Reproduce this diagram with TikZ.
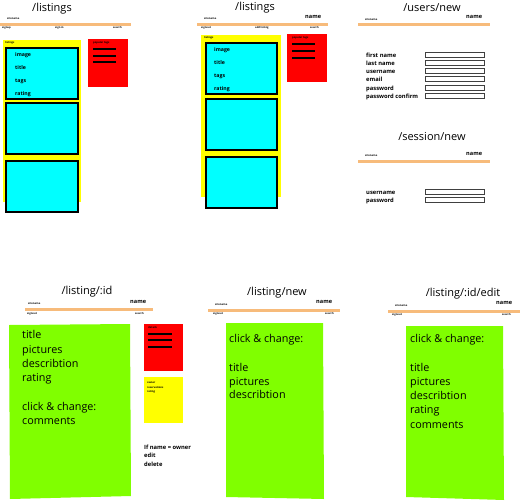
\documentclass[tikz,border=0pt]{standalone}
\usepackage{fontspec}
\setmainfont{Open Sans}
\begin{document}
\begin{tikzpicture}[x=1pt,y=-1pt,
  ttl/.style={font=\fontsize{11}{11}\selectfont, inner sep=0pt},
  tiny/.style={font=\fontsize{2.6}{3}\selectfont\bfseries, anchor=west, inner sep=0pt},
  usr/.style={font=\fontsize{5.6}{6}\selectfont\bfseries, anchor=west, inner sep=0pt},
  lbl/.style={font=\fontsize{5.2}{6}\selectfont\bfseries, anchor=base west, inner sep=0pt},
  frm/.style={font=\fontsize{5.8}{7}\selectfont\bfseries, anchor=base west, inner sep=0pt},
  big/.style={font=\fontsize{10.8}{12}\selectfont, anchor=base west, inner sep=0pt},
  navbar/.style={draw=navorange, line width=3pt, opacity=0.85},
  listcol/.style={fill=wfyellow, draw=none},
  card/.style={fill=wfcyan, draw=black, line width=1.6pt},
  sidebox/.style={fill=wfred, draw=none},
  sideline/.style={draw=black, line width=1.3pt},
  field/.style={draw=black!75, line width=0.7pt, fill=white},
  panel/.style={fill=wfgreen, draw=none}]
\definecolor{navorange}{RGB}{246,176,100}
\definecolor{wfyellow}{RGB}{255,255,0}
\definecolor{wfgreen}{RGB}{128,255,0}
\definecolor{wfcyan}{RGB}{0,255,255}
\definecolor{wfred}{RGB}{255,0,0}
\useasboundingbox[fill=white] (0,0) rectangle (520,501);

% ---------- /listings (signed out) ----------
\node[ttl] (t1) at (52,9) {/listings};
\node[tiny] (s1) at (7,19) {sitename};
\coordinate (n1a) at (0,24); \coordinate (n1b) at (131,24);
\draw[navbar] (n1a) -- (n1b);
\node[tiny] (a1) at (2,28) {signup};
\node[tiny] (b1) at (55,28) {sign in};
\node[tiny] (c1) at (113,28) {search};
\fill[listcol] (3,40) rectangle (81,202);
\node[tiny] (l1) at (5,43) {listings};
\draw[card] (6,48) rectangle (78,99);
\draw[card] (6,103) rectangle (78,154);
\draw[card] (6,161) rectangle (78,212);
\node[lbl] at (15,56) {image};
\node[lbl] at (15,69) {title};
\node[lbl] at (15,82) {tags};
\node[lbl] at (15,95) {rating};
\fill[sidebox] (88,39) rectangle (128,87);
\node[tiny] at (93,43) {popular tags};
\foreach \yy in {49,56,62} \draw[sideline] (93,\yy) -- (116,\yy);

% ---------- /listings (signed in) ----------
\node[ttl] (t2) at (255,8) {/listings};
\node[tiny] (s2) at (204,19) {sitename};
\node[usr] (u2) at (305,17) {name};
\coordinate (n2a) at (197,24); \coordinate (n2b) at (328,24);
\draw[navbar] (n2a) -- (n2b);
\node[tiny] at (201,28) {signout};
\node[tiny] at (255,28) {add listing};
\node[tiny] at (310,28) {search};
\fill[listcol] (201,35) rectangle (281,197);
\node[tiny] at (204,38) {listings};
\draw[card] (206,43) rectangle (277,94);
\draw[card] (206,99) rectangle (277,150);
\draw[card] (206,157) rectangle (277,208);
\node[lbl] at (214,51) {image};
\node[lbl] at (214,64) {title};
\node[lbl] at (214,77) {tags};
\node[lbl] at (214,90) {rating};
\fill[sidebox] (287,34) rectangle (327,82);
\node[tiny] at (292,38) {popular tags};
\foreach \yy in {44,51,58} \draw[sideline] (292,\yy) -- (315,\yy);

% ---------- /users/new ----------
\node[ttl] (t3) at (432,8) {/users/new};
\node[tiny] at (365,20) {sitename};
\node[usr] at (466,17) {name};
\coordinate (n3a) at (358,24); \coordinate (n3b) at (490,24);
\draw[navbar] (n3a) -- (n3b);
\foreach \yy/\txt in {55/first name,63/last name,71/username,79/email,88/password,96/password confirm}{
  \node[frm] at (366,\yy+2) {\txt};
  \draw[field] (425,\yy-2.5) rectangle (484,\yy+2.5);
}

% ---------- /session/new ----------
\node[ttl] (t4) at (432,137) {/session/new};
\node[tiny] at (365,156) {sitename};
\node[usr] at (466,154) {name};
\coordinate (n4a) at (358,161); \coordinate (n4b) at (490,161);
\draw[navbar] (n4a) -- (n4b);
\foreach \yy/\txt in {192/username,200/password}{
  \node[frm] at (366,\yy+2) {\txt};
  \draw[field] (425,\yy-2.5) rectangle (484,\yy+2.5);
}

% ---------- /listing/:id ----------
\node[ttl] (t5) at (87,292) {/listing/:id};
\node[tiny] at (28,304) {sitename};
\node[usr] at (130,302) {name};
\coordinate (n5a) at (25,309); \coordinate (n5b) at (153,309);
\draw[navbar] (n5a) -- (n5b);
\node[tiny] at (27,314) {signout};
\node[tiny] at (135,314) {search};
\fill[panel] (9,325) -- (130,324) -- (131,496) -- (10,499) -- cycle;
\node[big] at (22,338) {title};
\node[big] at (22,353) {pictures};
\node[big] at (22,367) {describtion};
\node[big] at (22,381) {rating};
\node[big] at (22,410) {click \& change:};
\node[big] at (22,424) {comments};
\fill[sidebox] (144,324) rectangle (183,371);
\node[tiny] at (148,328) {details};
\foreach \yy in {334,340,347} \draw[sideline] (148,\yy) -- (172,\yy);
\fill[listcol] (144,377) rectangle (183,423);
\node[tiny] at (147,383) {owner};
\node[tiny] at (147,388) {reservations};
\node[tiny] at (147,392) {rating};
\node[frm] at (144,449) {If name = owner};
\node[frm] at (144,457) {edit};
\node[frm] at (144,466) {delete};

% ---------- /listing/new ----------
\node[ttl] (t6) at (277,293) {/listing/new};
\node[tiny] at (215,305) {sitename};
\node[usr] at (316,302) {name};
\coordinate (n6a) at (208,310); \coordinate (n6b) at (340,310);
\draw[navbar] (n6a) -- (n6b);
\node[tiny] at (213,314) {signout};
\node[tiny] at (325,314) {search};
\fill[panel] (226,323) -- (323,323) -- (324,499) -- (226,497) -- cycle;
\node[big] at (229,342) {click \& change:};
\node[big] at (229,371) {title};
\node[big] at (229,385) {pictures};
\node[big] at (229,398) {describtion};

% ---------- /listing/:id/edit ----------
\node[ttl] (t7) at (463,294) {/listing/:id/edit};
\node[tiny] at (395,306) {sitename};
\node[usr] at (496,303) {name};
\coordinate (n7a) at (388,311); \coordinate (n7b) at (520,311);
\draw[navbar] (n7a) -- (n7b);
\node[tiny] at (392,315) {signout};
\node[tiny] at (502,315) {search};
\fill[panel] (406,326) -- (503,326) -- (504,500) -- (406,497) -- cycle;
\node[big] at (410,342) {click \& change:};
\node[big] at (410,371) {title};
\node[big] at (410,385) {pictures};
\node[big] at (410,399) {describtion};
\node[big] at (410,413) {rating};
\node[big] at (410,428) {comments};
\end{tikzpicture}
\end{document}
